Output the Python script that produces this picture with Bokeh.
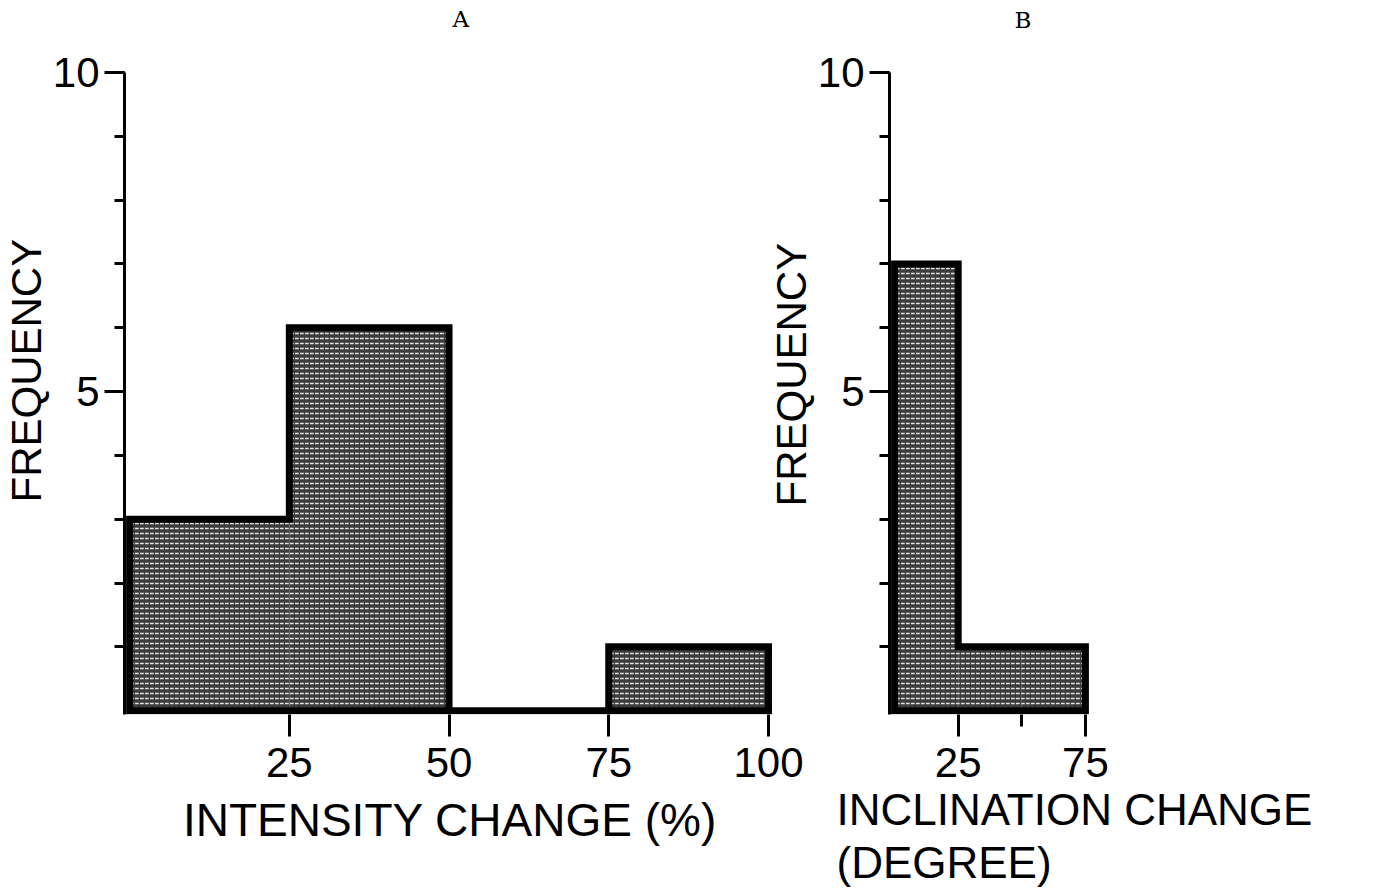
from bokeh.plotting import figure
from bokeh.models import Range1d, FixedTicker, Title
from bokeh.layouts import row
from bokeh.embed import file_html
from bokeh.resources import INLINE

# ---------------- data ----------------
# Panel A: intensity change (%)
a_edges = [0, 25, 50, 75, 100]
a_counts = [3, 6, 0, 1]
a_xticks = [25, 50, 75, 100]
# Panel B: inclination change (degree)
b_edges = [0, 25, 50, 75]
b_counts = [7, 1, 1]
b_xticks = [25, 75]
b_xminor = [50]
# shared frequency axis
y_major = [5, 10]
y_minor = [1, 2, 3, 4, 5, 6, 7, 8, 9, 10]

FONT = "Liberation Sans"
TICK_SIZE = "42px"
LABEL_SIZE = "44px"


def outline(edges, counts):
    xs, ys = [edges[0]], [0]
    for i, c in enumerate(counts):
        xs += [edges[i], edges[i + 1]]
        ys += [c, c]
    xs.append(edges[-1]); ys.append(0)
    return xs, ys


def draw_hist(p, edges, counts):
    p.quad(left=edges[:-1], right=edges[1:], bottom=0, top=counts,
           fill_color="#3c3c3c", line_color=None,
           hatch_pattern="horizontal_dash", hatch_color="white",
           hatch_alpha=0.85, hatch_scale=5, hatch_weight=1.5)
    xs, ys = outline(edges, counts)
    p.patch(xs, ys, fill_color=None, line_color="black", line_width=7,
            line_join="miter")


def style(p, xticks, xminor):
    p.xgrid.visible = False
    p.ygrid.visible = False
    p.outline_line_color = None
    xa = p.xaxis[0]
    xa.ticker = FixedTicker(ticks=xticks, minor_ticks=xminor)
    xa.axis_line_color = None
    xa.major_tick_in = 0
    xa.major_tick_out = 22
    xa.major_tick_line_width = 3
    xa.minor_tick_in = 0
    xa.minor_tick_out = 12
    xa.minor_tick_line_width = 3
    xa.major_label_text_font = FONT
    xa.major_label_text_font_size = TICK_SIZE
    xa.major_label_text_color = "black"
    xa.major_label_standoff = 11
    ya = p.yaxis[0]
    ya.ticker = FixedTicker(ticks=y_major, minor_ticks=y_minor)
    ya.axis_line_width = 3
    ya.axis_line_color = "black"
    ya.major_tick_in = 0
    ya.major_tick_out = 20
    ya.major_tick_line_width = 3
    ya.minor_tick_in = 0
    ya.minor_tick_out = 10
    ya.minor_tick_line_width = 3
    ya.major_label_text_font = FONT
    ya.major_label_text_font_size = TICK_SIZE
    ya.major_label_text_color = "black"
    ya.major_label_standoff = 5


def title(p, side, t, align="left", offset=0, standoff=0, size="42px",
          font=FONT, style_="normal", valign="bottom"):
    p.add_layout(Title(text=t, align=align, offset=offset, standoff=standoff,
                       text_font=font, text_font_size=size,
                       text_font_style=style_, text_color="black",
                       vertical_align=valign), side)


def panel_letter(p, letter, offset, gap):
    # an empty spacer next to the frame, then the panel letter further out
    title(p, "above", " ", standoff=gap, size="10px")
    title(p, "above", letter, offset=offset, standoff=0, size="23px",
          font="DejaVu Serif", valign="top")


# ---------------- panel A ----------------
pA = figure(frame_width=651, frame_height=642, x_range=Range1d(-0.8, 101.1),
            y_range=Range1d(-0.06, 10.0), output_backend="svg",
            toolbar_location=None, min_border_left=123, min_border_right=46,
            min_border_top=72, min_border_bottom=178)
draw_hist(pA, a_edges, a_counts)
style(pA, a_xticks, [])
xa = pA.xaxis[0]
xa.axis_label = "INTENSITY CHANGE (%)"
xa.axis_label_text_font = FONT
xa.axis_label_text_font_size = "46px"
xa.axis_label_text_font_style = "normal"
xa.axis_label_text_color = "black"
xa.axis_label_standoff = 14
title(pA, "left", "FREQUENCY", offset=212)
panel_letter(pA, "A", 328, 26)

# ---------------- panel B ----------------
pB = figure(frame_width=201, frame_height=642, x_range=Range1d(-2, 77),
            y_range=Range1d(-0.06, 10.0), output_backend="svg",
            toolbar_location=None, min_border_left=128, min_border_right=291,
            min_border_top=68, min_border_bottom=182)
pB.border_fill_color = None
pB.background_fill_color = None
draw_hist(pB, b_edges, b_counts)
style(pB, b_xticks, b_xminor)
title(pB, "left", "FREQUENCY", offset=208)
title(pB, "below", "INCLINATION CHANGE", offset=-53, standoff=7,
      size=LABEL_SIZE)
title(pB, "below", "(DEGREE)", offset=-53, size=LABEL_SIZE, valign="top")
panel_letter(pB, "B", 125, 25)
pB.margin = (0, 0, 0, -60)

layout = row(pA, pB)
open("out.html", "w").write(file_html(layout, INLINE))
